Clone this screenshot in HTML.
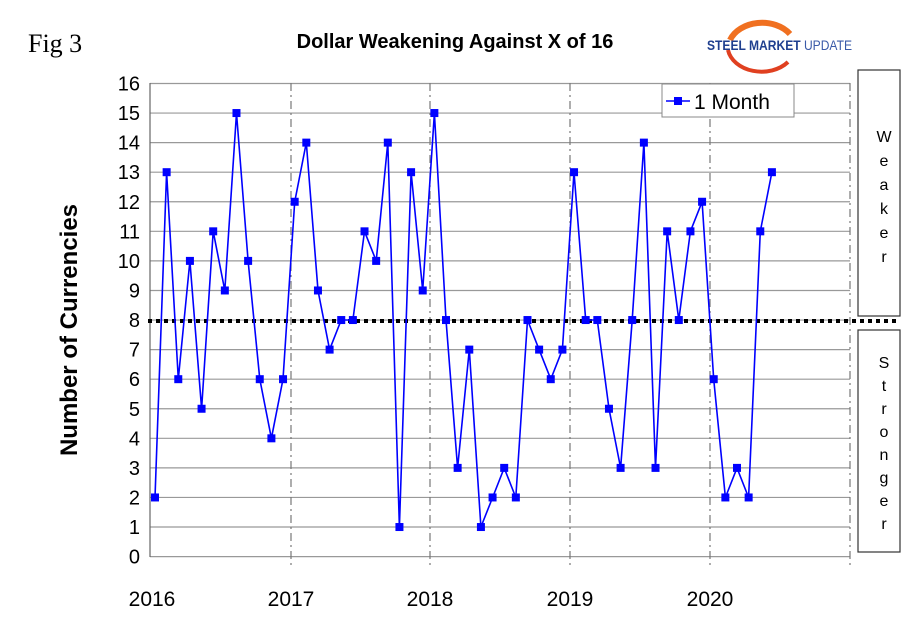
<!DOCTYPE html>
<html><head><meta charset="utf-8"><style>
html,body{margin:0;padding:0;background:#fff;}
svg{display:block;font-family:"Liberation Sans",Arial,sans-serif;}
</style></head><body>
<svg width="910" height="622" viewBox="0 0 910 622" xmlns="http://www.w3.org/2000/svg">
<rect width="910" height="622" fill="#fff"/>
<text x="28" y="52" font-family="Liberation Serif,serif" font-size="26">Fig 3</text>
<text x="455" y="48" text-anchor="middle" font-size="20" font-weight="bold">Dollar Weakening Against X of 16</text>
<!-- logo -->
<path d="M730 40 A34 26 0 0 1 790 34" stroke="#f07020" stroke-width="6" fill="none"/>
<path d="M728 50 A34 26 0 0 0 788 62" stroke="#e04020" stroke-width="4" fill="none"/>
<text x="707" y="50" font-size="14" font-weight="bold" fill="#1f3f8f" textLength="145" lengthAdjust="spacingAndGlyphs">STEEL MARKET <tspan font-weight="normal" fill="#3a5aa8">UPDATE</tspan></text>
<!-- grid -->
<g stroke="#999" stroke-width="1.2" id="grid"></g>
<g id="vl" stroke="#777" stroke-width="1.2" stroke-dasharray="8,4,2,4"></g>
<line x1="150" y1="83" x2="150" y2="557" stroke="#666" stroke-width="1.2"/>
<g id="yl" font-size="20" text-anchor="end"></g>
<g id="xl" font-size="21" text-anchor="middle"></g>
<text transform="translate(77,330) rotate(-90)" text-anchor="middle" font-size="24" font-weight="bold">Number of Currencies</text>
<line x1="148" y1="321" x2="897" y2="321" stroke="#000" stroke-width="4" stroke-dasharray="4,4"/>
<polyline id="ser" fill="none" stroke="#0000ff" stroke-width="1.6"/>
<g id="mk" fill="#0000ff"></g>
<!-- legend -->
<rect x="662" y="84" width="132" height="33" fill="#fff" stroke="#888" stroke-width="1"/>
<line x1="666" y1="101" x2="690" y2="101" stroke="#0000ff" stroke-width="1.6"/>
<rect x="674" y="97" width="8" height="8" fill="#0000ff"/>
<text x="694" y="109" font-size="21">1 Month</text>
<!-- side boxes -->
<rect x="858" y="70" width="42" height="246" fill="#fff" stroke="#333" stroke-width="1.2"/>
<rect x="858" y="330" width="42" height="222" fill="#fff" stroke="#333" stroke-width="1.2"/>
<g font-size="16" text-anchor="middle">
<text x="884" y="142">W</text><text x="884" y="166">e</text><text x="884" y="190">a</text><text x="884" y="214">k</text><text x="884" y="238">e</text><text x="884" y="262">r</text>
<text x="884" y="368">S</text><text x="884" y="391">t</text><text x="884" y="414">r</text><text x="884" y="437">o</text><text x="884" y="460">n</text><text x="884" y="483">g</text><text x="884" y="506">e</text><text x="884" y="529">r</text>
</g>
</svg>
<script>
const NS="http://www.w3.org/2000/svg";
function el(p,t,a,txt){const e=document.createElementNS(NS,t);for(const k in a)e.setAttribute(k,a[k]);if(txt!==undefined)e.textContent=txt;document.getElementById(p).appendChild(e);}
const Y=v=>556.6-v*29.57;
for(let v=0;v<=16;v++){el("grid","line",{x1:150,x2:850,y1:Y(v),y2:Y(v)});el("yl","text",{x:140,y:Y(v)+7},String(v));}
const XS=[152,291,430,570,710,850];
XS.forEach((x,i)=>{if(i>0)el("vl","line",{x1:x,x2:x,y1:83,y2:565});if(i<5)el("xl","text",{x:x,y:606},String(2016+i));});
const d=[2,13,6,10,5,11,9,15,10,6,4,6,12,14,9,7,8,8,11,10,14,1,13,9,15,8,3,7,1,2,3,2,8,7,6,7,13,8,8,5,3,8,14,3,11,8,11,12,6,2,3,2,11,13];
let pts=[];d.forEach((v,i)=>{const x=155+i*11.64,y=Y(v);pts.push(x.toFixed(1)+","+y.toFixed(1));el("mk","rect",{x:x-4,y:y-4,width:8,height:8});});
document.getElementById("ser").setAttribute("points",pts.join(" "));
</script>
</body></html>
